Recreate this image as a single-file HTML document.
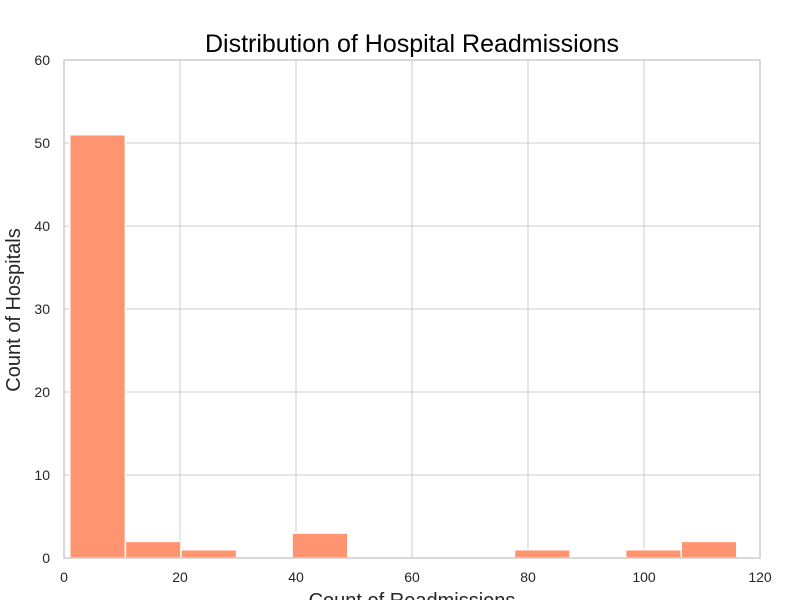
<!DOCTYPE html>
<html><head><meta charset="utf-8"><style>
body{margin:0;background:#fff;}
svg{display:block;font-family:"Liberation Sans",Arial,sans-serif;}
</style></head><body>
<svg id="chart" width="800" height="600"></svg>
<script>
const binEdges=[1,10.58,20.17,29.75,39.33,48.92,58.5,68.08,77.67,87.25,96.83,106.42,116];
const counts=[51,2,1,0,3,0,0,0,1,0,1,2];
const xTicks=[0,20,40,60,80,100,120];
const yTicks=[0,10,20,30,40,50,60];
const L=64,R=760,T=60,B=558;
const xs=v=>L+(v-0)/(120-0)*(R-L);
const ys=v=>B-(v-0)/(60-0)*(B-T);
const NS="http://www.w3.org/2000/svg";
const svg=document.getElementById('chart');
function mk(tag,attrs,parent){const e=document.createElementNS(NS,tag);for(const k in attrs)e.setAttribute(k,attrs[k]);(parent||svg).appendChild(e);return e;}
const grid=mk('g',{});


xTicks.forEach(t=>{const l=mk('line',{x1:xs(t),x2:xs(t),y1:T,y2:B,stroke:'#cccccc','stroke-width':1},grid);

});
yTicks.forEach(t=>{const l=mk('line',{x1:L,x2:R,y1:ys(t),y2:ys(t),stroke:'#cccccc','stroke-width':1},grid);

});
const bars=mk('g',{});


counts.forEach((c,i)=>{if(c<=0)return;const x0=xs(binEdges[i]),x1=xs(binEdges[i+1]);
const r=mk('rect',{x:x0,y:ys(c),width:x1-x0,height:B-ys(c),fill:'#ff9470',stroke:'#ffffff','stroke-width':1.5},bars);

});
const frame=mk('rect',{x:L,y:T,width:R-L,height:B-T,fill:'none',stroke:'#cccccc','stroke-width':1.5});


xTicks.forEach(t=>{const e=mk('text',{x:xs(t),y:582,'text-anchor':'middle','font-size':14,fill:'#262626'});e.textContent=t;

});
yTicks.forEach(t=>{const e=mk('text',{x:50,y:ys(t)+5,'text-anchor':'end','font-size':14,fill:'#262626'});e.textContent=t;

});
const title=mk('text',{x:412,y:52,'text-anchor':'middle','font-size':25,fill:'#000'});title.textContent='Distribution of Hospital Readmissions';


const xl=mk('text',{x:412,y:607,'text-anchor':'middle','font-size':20,fill:'#262626'});xl.textContent='Count of Readmissions';


const yl=mk('text',{x:0,y:0,'text-anchor':'middle','font-size':20,fill:'#262626',transform:'translate(20,310) rotate(-90)'});yl.textContent='Count of Hospitals';


</script>
</body></html>
